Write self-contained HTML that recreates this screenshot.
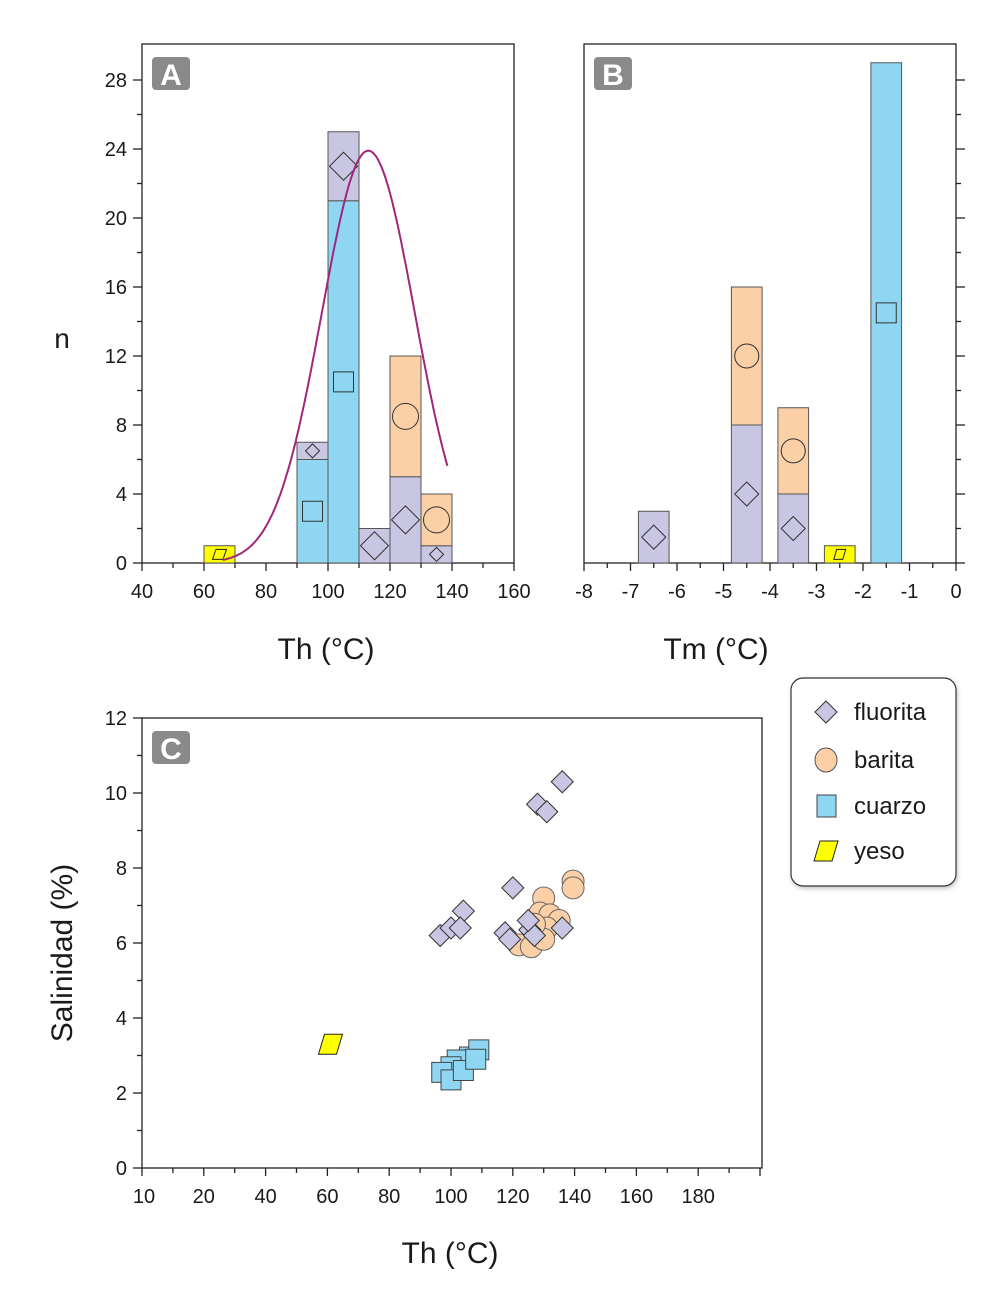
<!DOCTYPE html>
<html><head><meta charset="utf-8"><style>
body{margin:0;background:#fff}
svg{display:block;font-family:"Liberation Sans",sans-serif}
</style></head><body>
<svg id="s" width="991" height="1301" viewBox="0 0 991 1301" xmlns="http://www.w3.org/2000/svg">
<defs><filter id="sh" x="-10%" y="-10%" width="130%" height="130%"><feDropShadow dx="1" dy="2" stdDeviation="2" flood-color="#999" flood-opacity="0.6"/></filter></defs>
</svg>
<script>
// Panel A data
const binsA=[65,95,105,115,125,135];
const yesoA=[1,0,0,0,0,0];
const cuarzoA=[0,6,21,0,0,0];
const fluoritaA=[0,1,4,2,5,1];
const baritaA=[0,0,0,0,7,3];
const curveMean=113, curveSigma=15, curvePeak=23.9;
const yTicksA=[0,4,8,12,16,20,24,28];
const xTicksA=[40,60,80,100,120,140,160];
// Panel B data
const binsB=[-6.5,-4.5,-3.5,-2.5,-1.5];
const fluoritaB=[3,8,4,0,0];
const baritaB=[0,8,5,0,0];
const yesoB=[0,0,0,1,0];
const cuarzoB=[0,0,0,0,29];
const xTicksB=[-8,-7,-6,-5,-4,-3,-2,-1,0];
// Panel C data
const fluoTh=[136,128,131,120,104,96.5,100,103,117.5,119,125.5,127,136,125];
const fluoSal=[10.3,9.7,9.5,7.47,6.85,6.2,6.4,6.4,6.27,6.1,6.35,6.2,6.4,6.6];
const barTh=[139.5,139.5,130,128.8,132,135,131,122,126,130,127];
const barSal=[7.65,7.47,7.2,6.8,6.75,6.6,6.4,5.95,5.9,6.1,6.5];
const cuaTh=[106,109,102,100,97,100,104,108];
const cuaSal=[2.96,3.15,2.88,2.7,2.55,2.35,2.6,2.9];
const yesoTh=[61];
const yesoSal=[3.3];
const xTicksC=[0,20,40,60,80,100,120,140,160,180];
const xTickLabelsC=["10","20","40","60","80","100","120","140","160","180"];
const yTicksC=[0,2,4,6,8,10,12];

const C={f:"#c9c6e3",b:"#fbd0a6",c:"#8fd6f2",y:"#ffff00"};
const svg=document.getElementById('s');
const NS="http://www.w3.org/2000/svg";
function el(t,a,p){const e=document.createElementNS(NS,t);for(const k in a)e.setAttribute(k,a[k]);(p||svg).appendChild(e);return e;}
function txt(x,y,s,size,anchor,p){const e=el('text',{x:x,y:y,'font-size':size,'text-anchor':anchor||'middle',fill:'#1a1a1a'},p);e.textContent=s;return e;}
function diamond(cx,cy,r,fill,p){return el('polygon',{points:`${cx},${cy-r} ${cx+r},${cy} ${cx},${cy+r} ${cx-r},${cy}`,fill:fill,stroke:'#333','stroke-width':1},p);}
function para(cx,cy,w,h,fill,p){const s=w*0.25;return el('polygon',{points:`${cx-w/2+s},${cy-h/2} ${cx+w/2},${cy-h/2} ${cx+w/2-s},${cy+h/2} ${cx-w/2},${cy+h/2}`,fill:fill,stroke:'#222','stroke-width':1},p);}
function badge(x,y,L){const g=el('g',{});
el('rect',{x:x,y:y,width:38,height:33,rx:4,fill:'#8a8a8a'},g);const t=el('text',{x:x+19,y:y+28,'font-size':30,'font-weight':'bold','text-anchor':'middle',fill:'#fff'},g);t.textContent=L;}

// ---------- Panel A ----------
const ax=v=>142+(v-40)*(372/120), ay=v=>563-v*17.25;
const gA=el('g',{});
el('rect',{x:142,y:44,width:372,height:519,fill:'none',stroke:'#222','stroke-width':1.3},gA);
binsA.forEach((c,i)=>{
  const x0=ax(c-5),w=ax(c+5)-x0;let base=0;
  const segs=[['y',yesoA[i]],['c',cuarzoA[i]],['f',fluoritaA[i]],['b',baritaA[i]]];
  segs.forEach(([k,v])=>{if(!v)return;
    const r=el('rect',{x:x0,y:ay(base+v),width:w,height:ay(base)-ay(base+v),fill:C[k],stroke:'#555','stroke-width':1},gA);
    
    const cy=(ay(base)+ay(base+v))/2,cx=ax(c);const sz=Math.min(14,Math.max(7,(ay(base)-ay(base+v))/2-2));
    if(k=='f')diamond(cx,cy,sz,'none',gA);
    if(k=='b')el('circle',{cx:cx,cy:cy,r:sz-1,fill:'none',stroke:'#333'},gA);
    if(k=='c')el('rect',{x:cx-10,y:cy-10,width:20,height:20,fill:'none',stroke:'#333'},gA);
    if(k=='y')para(cx,cy,14,10,'none',gA);
    base+=v;});
});
let d='';for(let t=66;t<=138.5;t+=0.5){const v=curvePeak*Math.exp(-Math.pow(t-curveMean,2)/(2*curveSigma*curveSigma));d+=(d?'L':'M')+ax(t).toFixed(1)+','+ay(v).toFixed(1);}
const cv=el('path',{d:d,fill:'none',stroke:'#a0287a','stroke-width':2},gA);
for(let v=0;v<=28;v+=2){el('line',{x1:142,x2:v%4?137:133,y1:ay(v),y2:ay(v),stroke:'#222','stroke-width':1.3},gA);}
yTicksA.forEach(v=>txt(127,ay(v)+7,String(v),20,'end',gA));
for(let v=40;v<=160;v+=10){el('line',{x1:ax(v),x2:ax(v),y1:563,y2:v%20?568:571,stroke:'#222','stroke-width':1.3},gA);}
xTicksA.forEach(v=>txt(ax(v),598,String(v),20,'middle',gA));
const ny=txt(62,348,'n',28,'middle');
const tx=txt(326,659,'Th (°C)',30);
badge(152,57,'A');

// ---------- Panel B ----------
const bx=v=>584+(v+8)*46.5, by=ay;
const gB=el('g',{});
el('rect',{x:584,y:44,width:372,height:519,fill:'none',stroke:'#222','stroke-width':1.3},gB);
binsB.forEach((c,i)=>{
  const x0=bx(c-0.33),w=bx(c+0.33)-x0;let base=0;
  const segs=[['y',yesoB[i]],['c',cuarzoB[i]],['f',fluoritaB[i]],['b',baritaB[i]]];
  segs.forEach(([k,v])=>{if(!v)return;
    const r=el('rect',{x:x0,y:by(base+v),width:w,height:by(base)-by(base+v),fill:C[k],stroke:'#555','stroke-width':1},gB);
    
    const cy=(by(base)+by(base+v))/2,cx=bx(c);const sz=Math.min(12,Math.max(7,(by(base)-by(base+v))/2-2));
    if(k=='f')diamond(cx,cy,sz,'none',gB);
    if(k=='b')el('circle',{cx:cx,cy:cy,r:sz,fill:'none',stroke:'#333'},gB);
    if(k=='c')el('rect',{x:cx-10,y:cy-10,width:20,height:20,fill:'none',stroke:'#333'},gB);
    if(k=='y')para(cx,cy,12,10,'none',gB);
    base+=v;});
});
for(let v=0;v<=28;v+=2){el('line',{x1:956,x2:v%4?961:965,y1:by(v),y2:by(v),stroke:'#222','stroke-width':1.3},gB);}
for(let v=-8;v<=0;v+=0.5){el('line',{x1:bx(v),x2:bx(v),y1:563,y2:v%1?568:571,stroke:'#222','stroke-width':1.3},gB);}
xTicksB.forEach(v=>txt(bx(v),598,String(v),20,'middle',gB));
const tb=txt(716,659,'Tm (°C)',30);
badge(594,57,'B');

// ---------- Panel C ----------
const cx_=v=>142+v*3.09, cy_=v=>1168-v*37.5;
const gC=el('g',{});
el('rect',{x:142,y:718,width:620,height:450,fill:'none',stroke:'#222','stroke-width':1.3},gC);
for(let v=0;v<=12;v+=1){el('line',{x1:142,x2:v%2?137:133,y1:cy_(v),y2:cy_(v),stroke:'#222','stroke-width':1.3},gC);}
yTicksC.forEach(v=>txt(127,cy_(v)+7,String(v),20,'end',gC));
for(let v=0;v<=200;v+=10){el('line',{x1:cx_(v),x2:cx_(v),y1:1168,y2:v%20?1173:1176,stroke:'#222','stroke-width':1.3},gC);}
xTicksC.forEach((v,i)=>txt(cx_(v)+(i==0?2:0),1203,xTickLabelsC[i],20,'middle',gC));
yesoTh.forEach((t,i)=>{const p=para(cx_(t),cy_(yesoSal[i]),24,20,C.y,gC);});
cuaTh.forEach((t,i)=>{const r=el('rect',{x:cx_(t)-10,y:cy_(cuaSal[i])-10,width:20,height:20,fill:C.c,stroke:'#444'},gC);});
barTh.forEach((t,i)=>{const r=el('circle',{cx:cx_(t),cy:cy_(barSal[i]),r:11,fill:C.b,stroke:'#666'},gC);});
fluoTh.forEach((t,i)=>{const r=diamond(cx_(t),cy_(fluoSal[i]),11,C.f,gC);});
const ty=txt(0,0,'Salinidad (%)',30);ty.setAttribute('transform','translate(72,953) rotate(-90)');
const tc=txt(450,1263,'Th (°C)',30);
badge(152,731,'C');

// Legend
const lg=el('g',{});
el('rect',{x:791,y:678,width:165,height:208,rx:12,fill:'#fff',stroke:'#333','stroke-width':1.2,filter:'url(#sh)'},lg);
const le=[['fluorita',712],['barita',760],['cuarzo',806],['yeso',851]];
le.forEach(([n,y],i)=>{const g=el('g',{},lg);
 if(i==0)diamond(826,y,11,C.f,g);
 if(i==1)el('ellipse',{cx:826,cy:y,rx:11,ry:12,fill:C.b,stroke:'#555'},g);
 if(i==2)el('rect',{x:817,y:y-11,width:19,height:22,fill:C.c,stroke:'#444'},g);
 if(i==3)para(826,y,24,20,C.y,g);
 txt(854,y+8,n,24,'start',g);});
</script>
</body></html>
